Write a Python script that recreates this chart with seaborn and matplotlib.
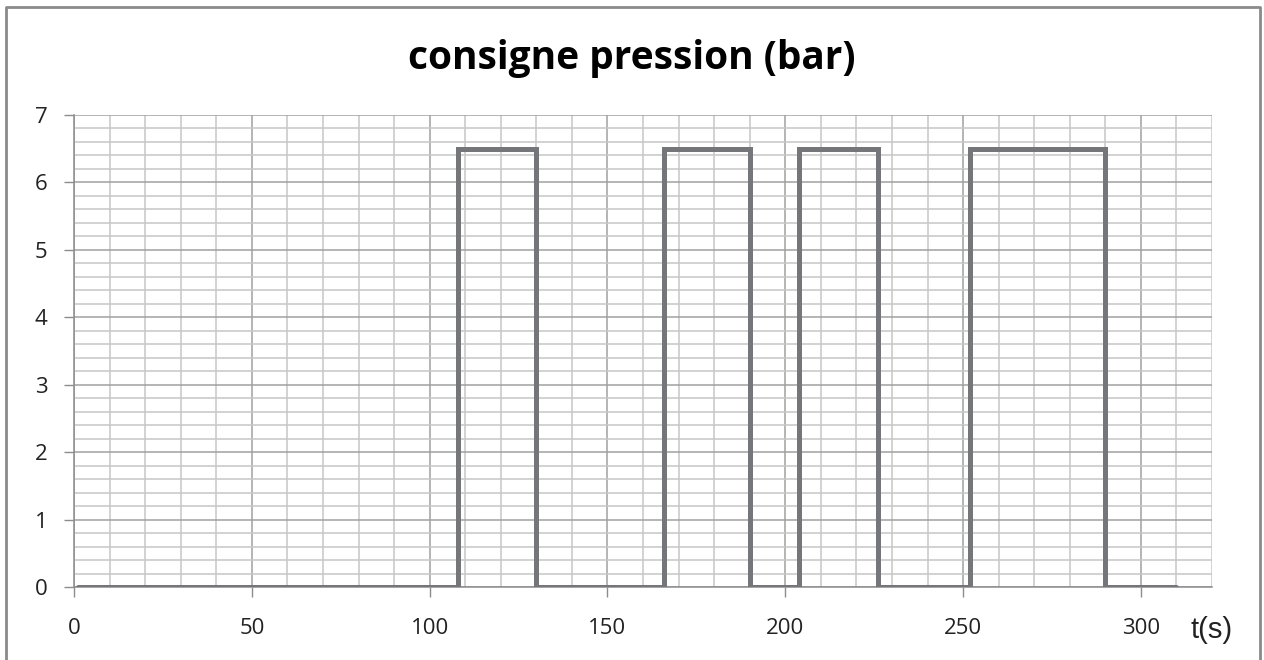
import matplotlib
matplotlib.use("Agg")
import matplotlib.pyplot as plt
import seaborn as sns
import pandas as pd
from matplotlib.ticker import MultipleLocator

# Data: step setpoint (time in s, pressure in bar)
t_points = [1, 108, 130, 166, 190, 204, 226, 252, 290, 310]
p_values = [0, 6.5, 0, 6.5, 0, 6.5, 0, 6.5, 0, 0]
x_ticks = [0, 50, 100, 150, 200, 250, 300]
y_ticks = [0, 1, 2, 3, 4, 5, 6, 7]
title = "consigne pression (bar)"
x_label = "t(s)"

df = pd.DataFrame({"t": t_points, "p": p_values})

sns.set_theme(style="white")
plt.rcParams['font.family'] = ['Open Sans', 'DejaVu Sans']

fig = plt.figure(figsize=(12.64, 6.6), dpi=100)
ax = fig.add_axes([74/1264, 1-587/660, (1212-74)/1264, (587-115)/660])

sns.lineplot(data=df, x="t", y="p", ax=ax, estimator=None, sort=False,
             drawstyle="steps-post", color="#74767a", linewidth=3.6,
             solid_joinstyle="miter", solid_capstyle="round", zorder=5)

ax.set_xlim(0, 320)
ax.set_ylim(0, 7)
ax.xaxis.set_minor_locator(MultipleLocator(10))
ax.yaxis.set_minor_locator(MultipleLocator(0.2))
ax.set_xticks(x_ticks)
ax.set_yticks(y_ticks)
ax.set_xticklabels([str(v) for v in x_ticks])
ax.set_yticklabels([str(v) for v in y_ticks])

ax.grid(which="minor", color="#c6c6c6", linewidth=1.1)
ax.grid(which="major", color="#a0a0a0", linewidth=1.1)
ax.set_axisbelow(True)

for side in ["top", "right"]:
    ax.spines[side].set_visible(False)
for side in ["left", "bottom"]:
    ax.spines[side].set_color("#8c8c8c")
    ax.spines[side].set_linewidth(1.1)

ax.tick_params(axis="x", which="major", length=7, width=1, color="#8c8c8c",
               direction="out", pad=15, labelsize=16, labelcolor="#222222")
ax.tick_params(axis="y", which="major", length=7, width=1, color="#8c8c8c",
               direction="out", pad=12, labelsize=16, labelcolor="#222222")
ax.tick_params(which="minor", length=0)
ax.tick_params(axis="both", which="major", bottom=True, left=True)

ax.set_xlabel("")
ax.set_ylabel("")

fig.text(632/1264, 1-58/660, title, ha="center", va="center",
         fontsize=28, fontweight="bold", color="black")
fig.text(1212/1264, 1-630/660, x_label, ha="center", va="center",
         fontsize=21, family=["Liberation Sans", "DejaVu Sans"], color="#222222")

# outer chart border (no bottom edge)
fig.add_artist(plt.Line2D([6/1264, 6/1264, 1260/1264, 1260/1264],
                          [0, 1-7/660, 1-7/660, 0], transform=fig.transFigure,
                          color="#8a8a8a", linewidth=2.0))

fig.savefig("out.png", dpi=100, facecolor="white")
